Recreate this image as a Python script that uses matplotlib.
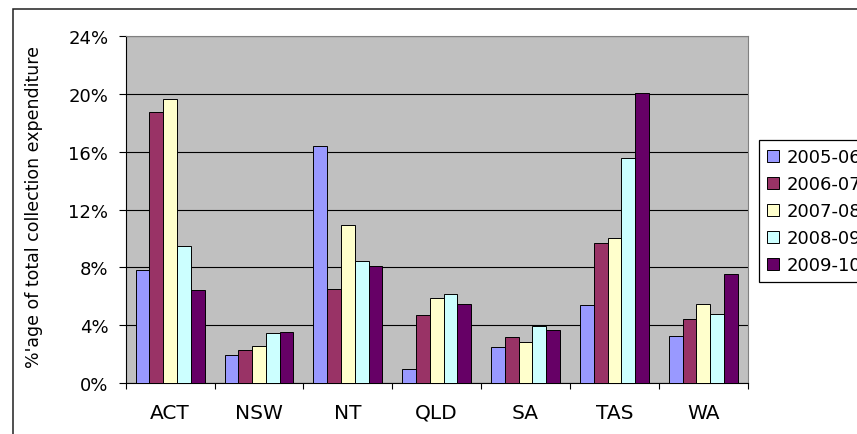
import numpy as np
import matplotlib
matplotlib.use("Agg")
import matplotlib.pyplot as plt
from matplotlib.patches import Rectangle
from matplotlib.ticker import FixedLocator, PercentFormatter

# Values (% of total collection expenditure)
states = ["ACT", "NSW", "NT", "QLD", "SA", "TAS", "WA"]
years = ["2005-06", "2006-07", "2007-08", "2008-09", "2009-10"]
y2005_06 = [7.8, 1.96, 16.36, 0.99, 2.53, 5.38, 3.24]
y2006_07 = [18.7, 2.32, 6.5, 4.74, 3.18, 9.69, 4.44]
y2007_08 = [19.6, 2.6, 10.95, 5.87, 2.83, 10.06, 5.45]
y2008_09 = [9.48, 3.45, 8.47, 6.14, 3.96, 15.58, 4.81]
y2009_10 = [6.42, 3.54, 8.12, 5.45, 3.66, 20.02, 7.57]
series = [y2005_06, y2006_07, y2007_08, y2008_09, y2009_10]
colors = ["#9999FF", "#993366", "#FFFFCC", "#CCFFFF", "#660066"]

W, H = 857, 435
fig = plt.figure(figsize=(W / 100, H / 100), dpi=100)
fig.patch.set_facecolor("white")

# outer chart frame (cropped at right and bottom)
fig.patches.append(Rectangle((13 / W, -0.2), 2, 1.2 - 10 / H, transform=fig.transFigure,
                             fill=False, edgecolor="#202020", linewidth=1.1))

left, right, top, bottom = 125.7, 747.7, 36.7, 384.3
ax = fig.add_axes([left / W, 1 - bottom / H, (right - left) / W, (bottom - top) / H])
ax.set_facecolor("#C0C0C0")

x = np.arange(len(states)) + 0.5
bw = 0.155
for j, (vals, col, lab) in enumerate(zip(series, colors, years)):
    ax.bar(x + (j - 2) * bw, vals, width=bw, color=col, edgecolor="black",
           linewidth=0.7, label=lab, zorder=3)

ax.set_xlim(0, len(states))
ax.set_ylim(0, 24)
ax.set_yticks(np.arange(0, 25, 4))
ax.yaxis.set_major_formatter(PercentFormatter(decimals=0))
ax.grid(axis="y", color="black", linewidth=0.8, zorder=1)
ax.set_axisbelow(True)

ax.set_xticks(x)
ax.set_xticklabels(states)
ax.xaxis.set_minor_locator(FixedLocator(np.arange(len(states) + 1)))
ax.tick_params(axis="x", which="major", length=0, pad=14, labelsize=14.5)
ax.tick_params(axis="x", which="minor", length=4.3, width=0.8, direction="out")
ax.tick_params(axis="y", length=5, width=0.8, pad=7.5, labelsize=13)

for s in ["left", "bottom"]:
    ax.spines[s].set_color("black")
    ax.spines[s].set_linewidth(0.8)
for s in ["top", "right"]:
    ax.spines[s].set_color("#808080")
    ax.spines[s].set_linewidth(0.8)

ax.set_ylabel("%'age of total collection expenditure", fontsize=12.5)
ax.yaxis.set_label_coords((43 - left) / (right - left), (bottom - 207.5) / (bottom - top))

leg = ax.legend(loc="upper left", bbox_to_anchor=(759 / W, 1 - 141 / H),
                bbox_transform=fig.transFigure, borderaxespad=0, fontsize=13,
                frameon=True, fancybox=False, edgecolor="black", framealpha=1,
                handlelength=0.67, handleheight=0.67, handletextpad=0.4,
                labelspacing=0.5, borderpad=0.45)
leg.get_frame().set_linewidth(0.9)

fig.savefig("out.png", dpi=100)
